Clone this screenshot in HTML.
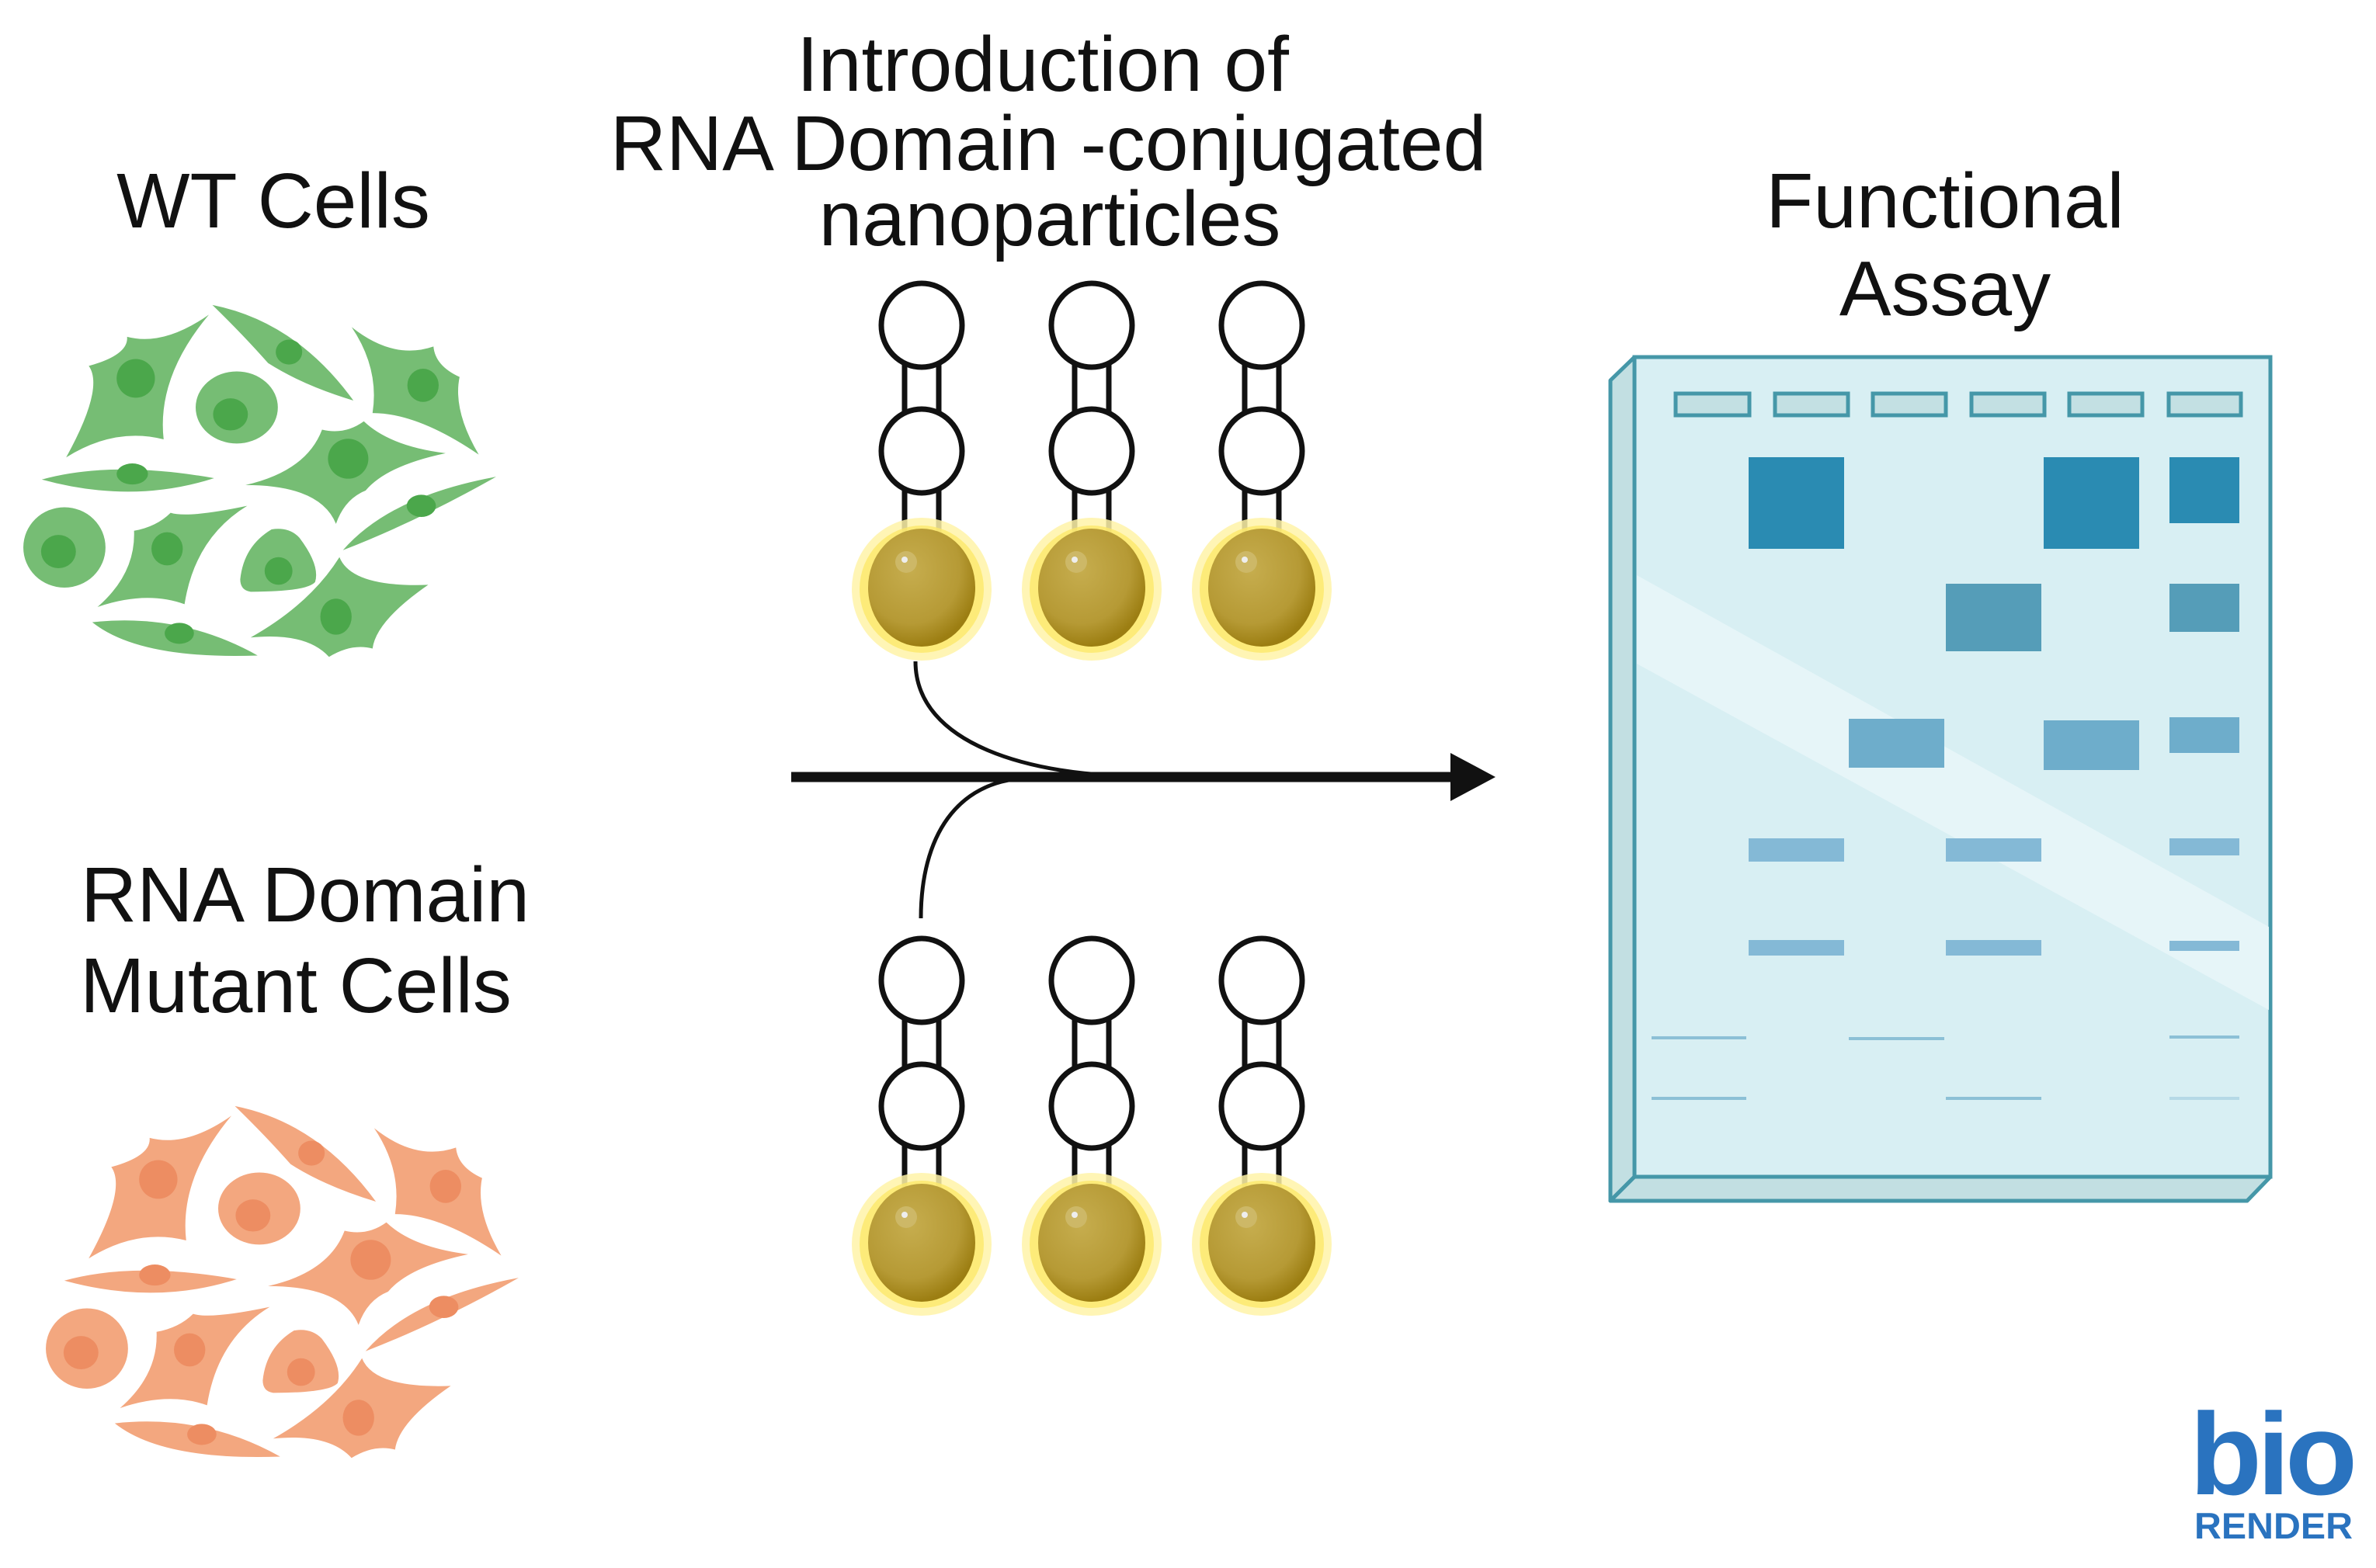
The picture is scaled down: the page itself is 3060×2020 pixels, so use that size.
<!DOCTYPE html>
<html><head><meta charset="utf-8"><style>
html,body{margin:0;padding:0;background:#fff;}
svg{display:block;}
text{font-family:"Liberation Sans",sans-serif;fill:#111;}
</style></head><body>
<svg width="3060" height="2020" viewBox="0 0 3060 2020" xmlns="http://www.w3.org/2000/svg">
<defs>
<g id="cells">
 <g style="fill:var(--c)">
 <path d="M600,155 Q470,270 365,235 Q370,300 255,340 Q300,420 190,670 Q330,560 470,605 Q450,380 600,155Z"/>
 <path d="M610,120 Q850,180 1015,465 Q870,410 770,330 Q700,230 610,120Z"/>
 <path d="M1010,200 Q1130,320 1245,270 Q1250,340 1320,380 Q1300,500 1375,660 Q1200,510 1070,510 Q1090,350 1010,200Z"/>
 <path d="M705,770 Q880,720 925,570 Q990,590 1045,540 Q1120,630 1280,655 Q1110,700 1050,790 Q990,820 965,910 Q920,770 705,770Z"/>
 <path d="M120,750 Q320,680 615,745 Q380,840 120,750Z"/>
 <path d="M985,1005 Q1120,810 1425,740 Q1200,900 985,1005Z"/>
 <path d="M280,1210 Q390,1090 385,935 Q450,920 490,870 Q540,890 710,845 Q560,960 530,1200 Q420,1150 280,1210Z"/>
 <path d="M690,1110 Q700,990 780,930 Q830,920 860,960 Q920,1060 905,1120 Q880,1155 720,1155 Q690,1150 690,1110Z"/>
 <path d="M265,1265 Q520,1230 740,1385 Q400,1400 265,1265Z"/>
 <path d="M720,1320 Q890,1200 975,1030 Q1010,1140 1230,1130 Q1080,1260 1070,1360 Q1010,1340 945,1390 Q880,1300 720,1320Z"/>
 <ellipse cx="680" cy="490" rx="118" ry="130"/>
 <ellipse cx="185" cy="995" rx="118" ry="145"/>
 </g>
 <g style="fill:var(--n)">
 <ellipse cx="390" cy="385" rx="55" ry="70"/>
 <ellipse cx="830" cy="290" rx="38" ry="45"/>
 <ellipse cx="1215" cy="410" rx="45" ry="60"/>
 <ellipse cx="1000" cy="675" rx="58" ry="72"/>
 <ellipse cx="380" cy="730" rx="45" ry="38"/>
 <ellipse cx="1210" cy="845" rx="42" ry="40"/>
 <ellipse cx="480" cy="1000" rx="45" ry="60"/>
 <ellipse cx="800" cy="1080" rx="40" ry="50"/>
 <ellipse cx="515" cy="1305" rx="42" ry="38"/>
 <ellipse cx="965" cy="1245" rx="45" ry="65"/>
 <ellipse cx="662" cy="515" rx="50" ry="58"/>
 <ellipse cx="168" cy="1010" rx="50" ry="60"/>
 </g>
</g>
<radialGradient id="gold" cx="0.4" cy="0.35" r="0.65">
 <stop offset="0" stop-color="#c6ad4e"/><stop offset="0.7" stop-color="#b69a35"/><stop offset="1" stop-color="#9c7e12"/>
</radialGradient>
<g id="np">
 <line x1="-22" y1="0" x2="-22" y2="300" stroke="#111" stroke-width="7"/>
 <line x1="22" y1="0" x2="22" y2="300" stroke="#111" stroke-width="7"/>
 <ellipse cx="0" cy="0" rx="52" ry="54" fill="#fff" stroke="#111" stroke-width="7"/>
 <ellipse cx="0" cy="162" rx="52" ry="54" fill="#fff" stroke="#111" stroke-width="7"/>
 <ellipse cx="0" cy="340" rx="90" ry="92" fill="#fff3a8" opacity="0.85"/>
 <ellipse cx="0" cy="340" rx="80" ry="82" fill="#fde96a" opacity="0.8"/>
 <ellipse cx="0" cy="338" rx="69" ry="76" fill="url(#gold)"/>
 <circle cx="-20" cy="305" r="14" fill="#cdb867"/>
 <circle cx="-22" cy="302" r="4" fill="#eee"/>
</g>
</defs>

<!-- labels -->
<g font-size="100" text-anchor="middle">
 <text x="352" y="293">WT Cells</text>
 <text x="1343" y="117">Introduction of</text>
 <text x="1350" y="219">RNA Domain -conjugated</text>
 <text x="1352" y="316">nanoparticles</text>
 <text x="2505" y="293">Functional</text>
 <text x="2505" y="406">Assay</text>
 <text x="393" y="1187">RNA Domain</text>
 <text x="381" y="1304">Mutant Cells</text>
</g>

<!-- cells -->
<g style="--c:#76bd74;--n:#4ba74b" transform="translate(0,350) scale(0.4484,0.357)"><use href="#cells"/></g>
<g style="--c:#f3a77f;--n:#ed8d62" transform="translate(29,1382) scale(0.4484,0.357)"><use href="#cells"/></g>

<!-- nanoparticles -->
<use href="#np" transform="translate(1187,419)"/>
<use href="#np" transform="translate(1406,419)"/>
<use href="#np" transform="translate(1625,419)"/>
<use href="#np" transform="translate(1187,1263)"/>
<use href="#np" transform="translate(1406,1263)"/>
<use href="#np" transform="translate(1625,1263)"/>

<!-- arrow and curves -->
<path d="M1179,852 C1179,960 1330,1000 1470,1000" fill="none" stroke="#111" stroke-width="5"/>
<path d="M1186,1183 C1186,1080 1230,1003 1330,1002" fill="none" stroke="#111" stroke-width="5"/>
<line x1="1019" y1="1001" x2="1880" y2="1001" stroke="#111" stroke-width="13"/>
<polygon points="1868,970 1926,1001 1868,1032" fill="#111"/>

<!-- gel -->
<polygon points="2074,490 2105,460 2105,1516 2074,1547" fill="#c2dfe2" stroke="#4597a8" stroke-width="5" stroke-linejoin="round"/>
<polygon points="2074,1547 2105,1516 2924,1516 2894,1547" fill="#c2dfe2" stroke="#4597a8" stroke-width="5" stroke-linejoin="round"/>
<rect x="2105" y="460" width="819" height="1056" fill="#d8eff3" stroke="#4597a8" stroke-width="5"/>
<polygon points="2108,741 2922,1194 2922,1301 2108,855" fill="#e6f5f8"/>
<g fill="#c3e0e3" stroke="#4597a8" stroke-width="5">
 <rect x="2158" y="507" width="95" height="28"/><rect x="2286" y="507" width="94" height="28"/>
 <rect x="2412" y="507" width="94" height="28"/><rect x="2539" y="507" width="94" height="28"/>
 <rect x="2665" y="507" width="94" height="28"/><rect x="2793" y="507" width="93" height="28"/>
</g>
<g fill="#2a8bb2">
 <rect x="2252" y="589" width="123" height="118"/><rect x="2632" y="589" width="123" height="118"/><rect x="2794" y="589" width="90" height="85"/>
</g>
<g fill="#559db8">
 <rect x="2506" y="752" width="123" height="87"/><rect x="2794" y="752" width="90" height="62"/>
</g>
<g fill="#6eadcb">
 <rect x="2381" y="926" width="123" height="63"/><rect x="2632" y="928" width="123" height="64"/><rect x="2794" y="924" width="90" height="46"/>
</g>
<g fill="#84b9d6">
 <rect x="2252" y="1080" width="123" height="30"/><rect x="2506" y="1080" width="123" height="30"/><rect x="2794" y="1080" width="90" height="22"/>
 <rect x="2252" y="1211" width="123" height="20"/><rect x="2506" y="1211" width="123" height="20"/><rect x="2794" y="1212" width="90" height="13"/>
</g>
<g stroke="#8cc0d6" stroke-width="4">
 <line x1="2127" y1="1337" x2="2249" y2="1337"/><line x1="2381" y1="1338" x2="2504" y2="1338"/><line x1="2794" y1="1336" x2="2884" y2="1336"/>
 <line x1="2127" y1="1415" x2="2249" y2="1415"/><line x1="2506" y1="1415" x2="2629" y2="1415"/><line x1="2794" y1="1415" x2="2884" y2="1415" stroke="#b5d9e6"/>
</g>

<!-- logo -->
<text x="2820" y="1925" font-size="150" font-weight="bold" style="fill:#2a73bf" letter-spacing="-6" textLength="210" lengthAdjust="spacingAndGlyphs">bio</text>
<text x="2826" y="1982" font-size="47" font-weight="bold" style="fill:#2a73bf" textLength="204" lengthAdjust="spacingAndGlyphs">RENDER</text>
</svg>
</body></html>
